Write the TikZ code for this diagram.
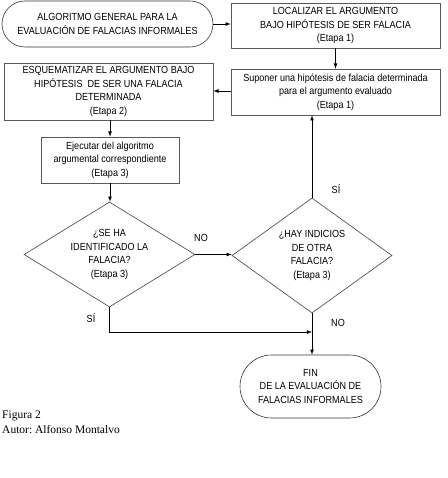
\documentclass[tikz,border=0pt]{standalone}
\usepackage{fontspec}
\setmainfont{Liberation Serif}
\newfontfamily\fuentecaja{Liberation Sans}[FakeStretch=0.88]
\usetikzlibrary{shapes.geometric,shapes.misc}

\begin{document}
\begin{tikzpicture}[x=1pt,y=-1pt,>=latex,
    caja/.style={draw=black!65,line width=0.6pt,rectangle,align=center,inner sep=0pt,
      font=\fuentecaja\fontsize{10.3}{13.4}\selectfont},
    terminal/.style={caja,draw=black!80,rounded rectangle},
    decision/.style={caja,draw=black!75,diamond},
    flecha/.style={->,line width=0.8pt},
    etiqueta/.style={font=\fuentecaja\fontsize{10.3}{12}\selectfont,inner sep=0pt}]

  % Marco de la figura
  \useasboundingbox (0,0) rectangle (447,478);

  % Inicio y etapa 1
  \node[terminal,minimum width=211pt,minimum height=46pt] (inicio) at (107.5,24)
    {ALGORITMO GENERAL PARA LA\\EVALUACIÓN DE FALACIAS INFORMALES};
  \node[caja,minimum width=209pt,minimum height=45pt] (localizar) at (335.5,25.5)
    {LOCALIZAR EL ARGUMENTO\\BAJO HIPÓTESIS DE SER FALACIA\\(Etapa 1)};
  \node[caja,minimum width=209pt,minimum height=46pt] (suponer) at (335.5,92)
    {Suponer una hipótesis de falacia determinada\\para el argumento evaluado\\(Etapa 1)};

  % Etapas 2 y 3
  \node[caja,minimum width=209pt,minimum height=57pt] (esquema) at (108.5,91.5)
    {ESQUEMATIZAR EL ARGUMENTO BAJO\\HIPÓTESIS\ \ DE SER UNA FALACIA\\DETERMINADA\\(Etapa 2)};
  \node[caja,minimum width=138pt,minimum height=46pt] (ejecutar) at (110,160)
    {Ejecutar del algoritmo\\argumental correspondiente\\(Etapa 3)};

  % Decisiones
  \node[decision,shape aspect=1.63,minimum width=171pt,minimum height=105pt] (d1) at (109.5,254.5)
    {¿SE HA\\IDENTIFICADO LA\\FALACIA?\\(Etapa 3)};
  \node[decision,shape aspect=1.39,minimum width=160pt,minimum height=115pt] (d2) at (312,255.5)
    {¿HAY INDICIOS\\DE OTRA\\FALACIA?\\(Etapa 3)};

  % Fin
  \node[terminal,minimum width=141pt,minimum height=63pt] (fin) at (310.5,386.5)
    {FIN\\DE LA EVALUACIÓN DE\\FALACIAS INFORMALES};
  \coordinate (union) at (312,332);

  % Conexiones
  \draw[flecha] (inicio.east) -- (inicio.east -| localizar.west);
  \draw[flecha] (localizar.south) -- (suponer.north);
  \draw[flecha] (suponer.west |- 0,91) -- (esquema.east |- 0,91);
  \draw[flecha] (esquema.south -| ejecutar.north) -- (ejecutar.north);
  \draw[flecha] (ejecutar.south) -- (ejecutar.south |- d1.north);
  \draw[flecha] (d1.east) -- (d1.east -| d2.west);
  \draw[flecha] (d2.north) -- (d2.north |- suponer.south);
  \draw[flecha] (d2.south) -- (d2.south |- fin.north);
  \draw[flecha] (d1.south) |- (union);

  % Etiquetas de las ramas
  \node[etiqueta] (no1) at (201,238) {NO};
  \node[etiqueta] (si1) at (336,189) {SÍ};
  \node[etiqueta] (si2) at (91,318) {SÍ};
  \node[etiqueta] (no2) at (338,323) {NO};

  % Pie de figura
  \node[anchor=north west,align=left,inner sep=0pt,font=\fontsize{11.5}{14.5}\selectfont] (pie) at (2,411)
    {Figura 2\\Autor:\ Alfonso Montalvo};

\end{tikzpicture}
\end{document}
